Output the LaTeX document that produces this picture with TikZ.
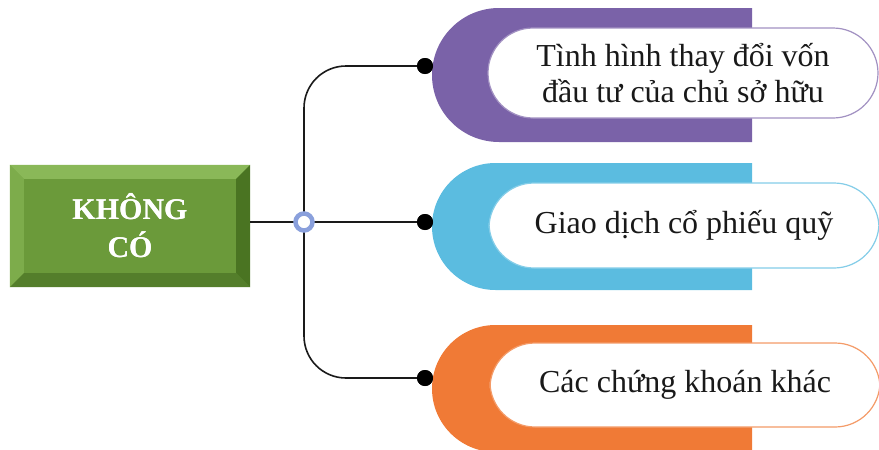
\documentclass[tikz,border=0pt]{standalone}
\usepackage{fontspec}
\setmainfont{Liberation Serif}
\usetikzlibrary{calc}
\definecolor{gface}{HTML}{6B9A3A}
\definecolor{gtop}{HTML}{8AB858}
\definecolor{gleft}{HTML}{7DAC4B}
\definecolor{gright}{HTML}{4A7422}
\definecolor{gbot}{HTML}{547E2B}
\definecolor{cpurple}{HTML}{7A62A8}
\definecolor{cteal}{HTML}{5BBCE0}
\definecolor{corange}{HTML}{F07A36}
\definecolor{cring}{HTML}{8AA0DC}
\definecolor{cline}{HTML}{1A1A1A}
\tikzset{
  greenbox/.style={rectangle, fill=gface, inner sep=0pt, minimum width=240pt, minimum height=122pt,
    text=white, font=\fontsize{30}{38}\selectfont\bfseries, align=center},
  pill/.style={rectangle, rounded corners=45pt, fill=white, line width=1.2pt, minimum width=390pt,
    minimum height=#1, inner sep=0pt, font=\fontsize{32}{36}\selectfont, align=center, text=black!90},
  conn/.style={draw=cline, line width=1.6pt},
  dotnode/.style={circle, fill=black, inner sep=0pt, minimum size=16pt},
  hubnode/.style={circle, draw=cring, line width=4.5pt, fill=white, inner sep=0pt, minimum size=17pt},
}
\begin{document}
\begin{tikzpicture}[x=1pt, y=-1pt]
\useasboundingbox (0,0) rectangle (879,450);
% green box
\node[greenbox] (k) at (130,226) {KHÔNG\\CÓ};
\fill[gtop] (k.north west) -- (k.north east) -- ($(k.north east)+(-14,14)$) -- ($(k.north west)+(14,14)$) -- cycle;
\fill[gleft] (k.north west) -- ($(k.north west)+(14,14)$) -- ($(k.south west)+(14,-14)$) -- (k.south west) -- cycle;
\fill[gright] (k.north east) -- ($(k.north east)+(-14,14)$) -- ($(k.south east)+(-14,-14)$) -- (k.south east) -- cycle;
\fill[gbot] (k.south west) -- ($(k.south west)+(14,-14)$) -- ($(k.south east)+(-14,-14)$) -- (k.south east) -- cycle;
\node[greenbox, fill=none] at (k) {KHÔNG\\CÓ};
% backdrops
\fill[cpurple] (752,8) -- (499,8) arc[start angle=-90, end angle=-270, radius=67] -- (752,142) -- cycle;
\fill[cteal] (752,163) -- (495.5,163) arc[start angle=-90, end angle=-270, radius=63.5] -- (752,290) -- cycle;
\fill[corange] (752,325) -- (495.5,325) arc[start angle=-90, end angle=-270, radius=63.5] -- (752,452) -- cycle;
% pills
\node[pill=90pt, draw=cpurple!70] (p1) at (683,73) {Tình hình thay đổi vốn\\đầu tư của chủ sở hữu};
\node[pill=85pt, draw=cteal!75] (p2) at (684,225.5) {Giao dịch cổ phiếu quỹ};
\node[pill=84pt, draw=corange!75] (p3) at (685,385) {Các chứng khoán khác};
% dots and hub
\node[dotnode] (d1) at (425,66) {};
\node[dotnode] (d2) at (425,222) {};
\node[dotnode] (d3) at (425,378) {};
\draw[conn] (k.east |- 0,222) coordinate (kout) -- (304,222);
\draw[conn, rounded corners=42pt] (304,222) |- (d1.center);
\draw[conn, rounded corners=42pt] (304,222) |- (d3.center);
\draw[conn] (304,222) -- (d2.center);
\node[hubnode] (hub) at (304,222) {};
\node[dotnode] at (d1) {};
\node[dotnode] at (d2) {};
\node[dotnode] at (d3) {};
\end{tikzpicture}
\end{document}
